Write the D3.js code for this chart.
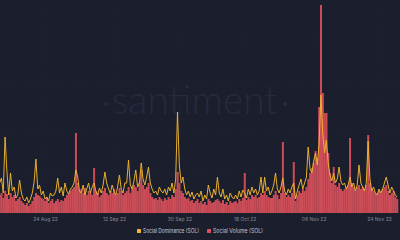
<!DOCTYPE html>
<html><head><meta charset="utf-8">
<script src="https://cdn.jsdelivr.net/npm/d3@7/dist/d3.min.js"></script>
<style>html,body{margin:0;padding:0;background:#1b1e2d;}svg{display:block;}</style>
</head><body>
<svg id="c" width="400" height="240"></svg>
<script>
const startDate = "2022-08-11T12:00:00Z";
const stepHours = 12;
const tickLabels = ["24 Aug 22","12 Sep 22","30 Sep 22","18 Oct 22","06 Nov 22","24 Nov 22"];
const tickDates = ["2022-08-24","2022-09-12","2022-09-30","2022-10-18","2022-11-06","2022-11-24"];
const seriesNames = ["Social Dominance (SOL)","Social Volume (SOL)"];
const socialVolume = [
18,20,15,22,19,14,20,16,18,12,
14,16,12,10,8,10,7,9,12,16,
20,18,17,15,14,12,16,10,12,14,
10,12,14,11,13,12,15,18,20,22,
24,26,80,30,22,24,20,25,18,22,
20,18,45,22,20,16,18,22,25,20,
18,22,20,24,18,20,25,22,18,20,
22,26,20,24,28,26,22,30,43,28,
24,26,30,20,16,14,15,13,16,14,
12,15,13,16,14,18,16,24,41,30,
22,20,16,14,15,12,13,10,12,14,
10,12,9,11,8,14,12,10,11,13,
14,12,10,13,9,11,8,12,10,11,
12,10,14,12,15,40,13,16,14,18,
16,18,15,16,20,18,22,18,16,15,
15,18,22,18,14,20,71,20,16,18,
16,20,51,12,18,22,20,24,22,26,
34,40,45,50,62,55,106,208,120,100,
100,60,40,30,46,28,26,30,24,22,
24,26,28,75,30,26,22,26,28,24,
26,24,28,78,30,24,22,20,18,22,
20,24,26,28,22,18,20,22,16,14];
const socialDominance = [
30,35,20,76,42,18,40,22,26,15,
18,33,20,14,12,16,10,14,20,31,
54,24,28,18,22,14,16,12,20,17,
18,22,35,20,26,17,30,22,19,24,
26,30,43,36,22,20,28,18,24,30,
20,26,30,22,18,25,20,28,41,30,
24,20,28,22,18,26,38,24,20,30,
30,53,28,24,32,43,26,30,50,34,
28,36,46,30,24,20,22,18,26,22,
20,24,18,26,22,30,20,34,101,48,
30,36,24,18,22,16,21,14,18,20,
16,22,12,18,14,28,20,15,24,18,
36,20,16,24,14,18,12,20,16,14,
18,14,22,16,23,20,15,24,18,26,
20,24,18,22,36,20,36,22,26,18,
22,28,40,24,20,26,35,22,18,24,
20,26,30,14,22,28,34,24,30,36,
66,44,40,52,60,48,70,118,80,60,
73,50,38,32,40,30,34,46,32,28,
30,24,28,36,26,30,22,28,48,30,
26,22,30,72,34,22,26,20,18,24,
20,24,30,36,28,20,26,22,18,16];

const W = 400, H = 240, plotBottom = 213, plotTop = 3;
const svg = d3.select("#c");
svg.append("rect").attr("width",W).attr("height",H).attr("fill","#1b1e2d");

const t0 = new Date(startDate).getTime();
const data = socialVolume.map((v,i)=>({date:new Date(t0 + i*stepHours*3600e3), vol:v, dom:socialDominance[i]}));

const x = d3.scaleUtc().domain([new Date(tickDates[0]), new Date(tickDates[5])]).range([45,379]);
x.domain([x.invert(0), x.invert(W)]).range([0,W]);
const yVol = d3.scaleLinear().domain([0,210]).range([plotBottom,plotTop]);
const yDom = d3.scaleLinear().domain([0,210]).range([plotBottom,plotTop]);

// faint grid
const grid = svg.append("g");
[40,85,130,175].forEach(g=>grid.append("line").attr("x1",0).attr("x2",W).attr("y1",g).attr("y2",g)
  .attr("stroke","#21253a").attr("stroke-width",1).attr("stroke-dasharray","1,2"));
tickDates.forEach(d=>grid.append("line").attr("x1",x(new Date(d))).attr("x2",x(new Date(d)))
  .attr("y1",plotTop).attr("y2",plotBottom).attr("stroke","#20243a").attr("stroke-width",1).attr("stroke-dasharray","1,2"));

// watermark
const wm = svg.append("g").attr("fill","#262a3d").attr("font-family","Lato, 'Open Sans', sans-serif");
wm.append("text").attr("x",195).attr("y",114).attr("text-anchor","middle").attr("font-size",40)
  .attr("font-weight",300).attr("textLength",166).attr("lengthAdjust","spacingAndGlyphs").text("santiment");
wm.append("circle").attr("cx",106).attr("cy",104).attr("r",2);
wm.append("circle").attr("cx",285).attr("cy",104).attr("r",2);

// bars
const bw = x(new Date(t0+stepHours*3600e3)) - x(new Date(t0));
svg.append("g").selectAll("rect").data(data).join("rect")
  .attr("x",d=>x(d.date)-bw/2).attr("width",bw+0.2)
  .attr("y",d=>yVol(d.vol)).attr("height",d=>plotBottom-yVol(d.vol))
  .attr("fill","#d9505b").attr("fill-opacity",0.92);

// dominance line
svg.append("path").datum(data)
  .attr("d",d3.line().x(d=>x(d.date)).y(d=>yDom(d.dom)))
  .attr("fill","none").attr("stroke","#f0b52e").attr("stroke-width",1).attr("stroke-opacity",0.95);

// axis
const axis = d3.axisBottom(x).tickValues(tickDates.map(d=>new Date(d)))
  .tickFormat((d,i)=>tickLabels[i]).tickSize(0).tickPadding(4);
const ag = svg.append("g").attr("transform",`translate(0,${plotBottom})`).call(axis);
ag.select(".domain").remove();
ag.selectAll("text").attr("fill","#858a9e").attr("font-size",5).attr("font-family","Inter, 'Noto Sans', sans-serif");

// legend
const lg = svg.append("g").attr("font-family","Inter, 'Noto Sans', sans-serif").attr("font-size",5.5).attr("fill","#c5c8d4");
lg.append("rect").attr("x",137).attr("y",229).attr("width",4).attr("height",4).attr("rx",0.5).attr("fill","#f0b52e");
lg.append("text").attr("x",143).attr("y",233).attr("textLength",56).attr("lengthAdjust","spacingAndGlyphs").text(seriesNames[0]);
lg.append("rect").attr("x",207).attr("y",229).attr("width",4).attr("height",4).attr("rx",0.5).attr("fill","#d9505b");
lg.append("text").attr("x",213).attr("y",233).attr("textLength",50).attr("lengthAdjust","spacingAndGlyphs").text(seriesNames[1]);
</script>
</body></html>
